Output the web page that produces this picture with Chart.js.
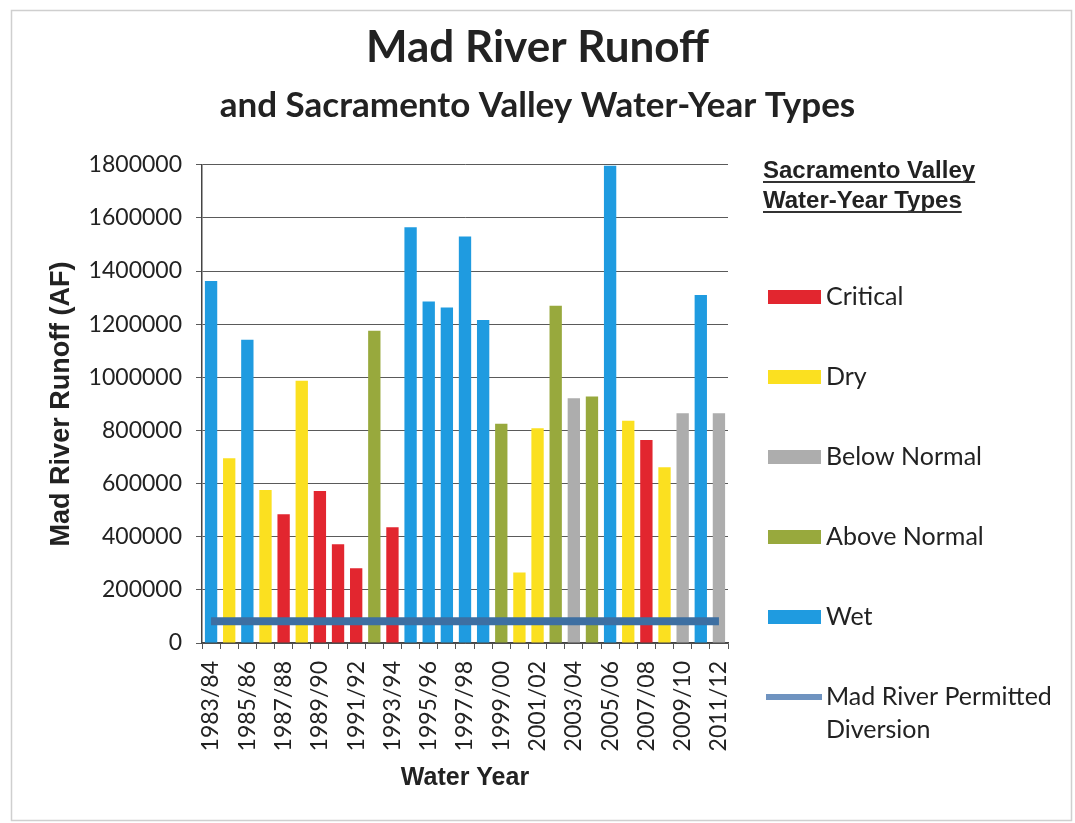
<!DOCTYPE html>
<html>
<head>
<meta charset="utf-8">
<title>Mad River Runoff</title>
<script src="https://cdn.jsdelivr.net/npm/chart.js@4.4.1/dist/chart.umd.min.js"></script>
<style>
  html, body { margin: 0; padding: 0; background: #ffffff; }
  canvas { display: block; }
</style>
</head>
<body>
<canvas id="runoffChart" width="1075" height="823"></canvas>
<script>
// Water years shown on the category axis
const waterYears = [
  '1983/84', '1984/85', '1985/86', '1986/87', '1987/88', '1988/89', '1989/90',
  '1990/91', '1991/92', '1992/93', '1993/94', '1994/95', '1995/96', '1996/97',
  '1997/98', '1998/99', '1999/00', '2000/01', '2001/02', '2002/03', '2003/04',
  '2004/05', '2005/06', '2006/07', '2007/08', '2008/09', '2009/10', '2010/11',
  '2011/12'
];

// Mad River runoff for each water year (acre-feet)
const runoffAF = [
  1363000, 695000, 1141000, 576000, 485000, 987000, 572000,
  372000, 281000, 1175000, 436000, 1565000, 1285000, 1263000,
  1530000, 1216000, 825000, 265000, 808000, 1269000, 921000,
  928000, 1796000, 837000, 764000, 662000, 865000, 1310000,
  865000
];

// Sacramento Valley water-year type for each year
const yearTypes = [
  'Wet', 'Dry', 'Wet', 'Dry', 'Critical', 'Dry', 'Critical',
  'Critical', 'Critical', 'Above Normal', 'Critical', 'Wet', 'Wet', 'Wet',
  'Wet', 'Wet', 'Above Normal', 'Dry', 'Dry', 'Above Normal', 'Below Normal',
  'Above Normal', 'Wet', 'Dry', 'Critical', 'Dry', 'Below Normal', 'Wet',
  'Below Normal'
];

// Permitted diversion (acre-feet per year)
const permittedDiversionAF = [
  82000, 82000, 82000, 82000, 82000, 82000, 82000,
  82000, 82000, 82000, 82000, 82000, 82000, 82000,
  82000, 82000, 82000, 82000, 82000, 82000, 82000,
  82000, 82000, 82000, 82000, 82000, 82000, 82000,
  82000
];

// Legend order of the water-year types
const typeOrder = ['Critical', 'Dry', 'Below Normal', 'Above Normal', 'Wet'];

// Value axis range and step
const yMin = 0;
const yMax = 1800000;
const yStep = 200000;

const typeColors = {
  'Critical': '#e2262f',
  'Dry': '#fbe020',
  'Below Normal': '#adadad',
  'Above Normal': '#98a93d',
  'Wet': '#1f9be0'
};
const diversionColor = '#3d6fa2';
const diversionSwatch = '#6f93c0';
const diversionLabel = ['Mad River Permitted', 'Diversion'];

const bodyFont = 'Lato, "Open Sans", sans-serif';
const arialBold = '"Liberation Sans", Arial, sans-serif';

// Page frame
const framePlugin = {
  id: 'pageFrame',
  beforeDraw(chart) {
    const ctx = chart.ctx;
    ctx.save();
    ctx.strokeStyle = '#cfcfcf';
    ctx.lineWidth = 1.5;
    ctx.strokeRect(11.5, 10.5, 1060, 810);
    ctx.restore();
  }
};

// Right-hand legend: underlined heading plus one row per type
const typeLegendPlugin = {
  id: 'typeLegend',
  afterDraw(chart) {
    const ctx = chart.ctx;
    const x0 = 763;
    ctx.save();
    ctx.fillStyle = '#222222';
    ctx.strokeStyle = '#333333';
    ctx.font = 'bold 24px ' + arialBold;
    ctx.textAlign = 'left';
    ctx.textBaseline = 'alphabetic';
    const heading = ['Sacramento Valley', 'Water-Year Types'];
    heading.forEach((line, i) => {
      const base = 178 + i * 30;
      ctx.fillText(line, x0, base);
      const w = ctx.measureText(line).width;
      ctx.lineWidth = 2;
      ctx.beginPath();
      ctx.moveTo(x0, base + 4);
      ctx.lineTo(x0 + w, base + 4);
      ctx.stroke();
    });

    const swX = 768, swW = 53, txtX = 826;
    ctx.font = '25px ' + bodyFont;
    ctx.textBaseline = 'middle';
    typeOrder.forEach((name, i) => {
      const cy = 297 + i * 80;
      ctx.fillStyle = typeColors[name];
      ctx.fillRect(swX, cy - 7, swW, 14);
      ctx.fillStyle = '#222222';
      ctx.fillText(name, txtX, cy);
    });
    const ly = 297 + typeOrder.length * 80;
    ctx.fillStyle = diversionSwatch;
    ctx.fillRect(swX - 2, ly - 3, swW + 3, 6);
    ctx.fillStyle = '#222222';
    ctx.fillText(diversionLabel[0], txtX, ly);
    ctx.fillText(diversionLabel[1], txtX, ly + 33);
    ctx.restore();
  }
};

new Chart(document.getElementById('runoffChart'), {
  type: 'bar',
  data: {
    labels: waterYears,
    datasets: [
      {
        type: 'line',
        label: 'Mad River Permitted Diversion',
        data: permittedDiversionAF,
        borderColor: diversionColor,
        backgroundColor: diversionColor,
        borderWidth: 8,
        pointRadius: 0,
        tension: 0,
        order: 0
      },
      {
        type: 'bar',
        label: 'Mad River Runoff',
        data: runoffAF,
        backgroundColor: yearTypes.map(t => typeColors[t]),
        borderWidth: 0,
        barPercentage: 0.68,
        categoryPercentage: 1.0,
        order: 1
      }
    ]
  },
  options: {
    responsive: false,
    animation: false,
    layout: { padding: { left: 0, right: 0, top: 0, bottom: 0 } },
    plugins: {
      legend: { display: false },
      tooltip: { enabled: false },
      title: {
        display: true,
        text: 'Mad River Runoff',
        color: '#222222',
        font: { family: bodyFont, size: 44, weight: 'bold', lineHeight: 1.2 },
        padding: { top: 21, bottom: 0 }
      },
      subtitle: {
        display: true,
        text: 'and Sacramento Valley Water-Year Types',
        color: '#222222',
        font: { family: bodyFont, size: 35, weight: 'bold', lineHeight: 1.2 },
        padding: { top: 11, bottom: 38 }
      }
    },
    scales: {
      x: {
        offset: true,
        grid: {
          display: true,
          offset: true,
          drawOnChartArea: false,
          drawTicks: true,
          tickLength: 6,
          color: '#555555'
        },
        border: { display: true, color: '#444444', width: 1.5 },
        ticks: {
          autoSkip: false,
          minRotation: 90,
          maxRotation: 90,
          padding: 12,
          color: '#222222',
          font: { family: bodyFont, size: 23 },
          callback: (v, i) => (i % 2 === 0 ? waterYears[i] : '')
        },
        title: {
          display: true,
          text: 'Water Year',
          color: '#222222',
          font: { family: arialBold, size: 25, weight: 'bold', lineHeight: 1.2 },
          padding: { top: 4, bottom: 30 }
        },
        afterFit(scale) { scale.height = 180; }
      },
      y: {
        min: yMin,
        max: yMax,
        grid: {
          color: '#5a5a5a',
          lineWidth: 1,
          drawTicks: true,
          tickLength: 6
        },
        border: { display: true, color: '#444444', width: 1.5 },
        ticks: {
          stepSize: yStep,
          padding: 14,
          color: '#222222',
          font: { family: bodyFont, size: 23 },
          callback: v => String(v)
        },
        title: {
          display: true,
          text: 'Mad River Runoff (AF)',
          color: '#222222',
          font: { family: arialBold, size: 27, weight: 'bold', lineHeight: 1.2 },
          padding: { top: 45, bottom: 0 }
        },
        afterFit(scale) { scale.width = 202; }
      },
      // Empty right-hand box that holds the water-year-type legend
      legendSpace: {
        type: 'linear',
        position: 'right',
        display: true,
        grid: { display: false, drawTicks: false },
        border: { display: false },
        ticks: { display: false },
        afterFit(scale) { scale.width = 347; }
      }
    }
  },
  plugins: [framePlugin, typeLegendPlugin]
});
</script>
</body>
</html>
